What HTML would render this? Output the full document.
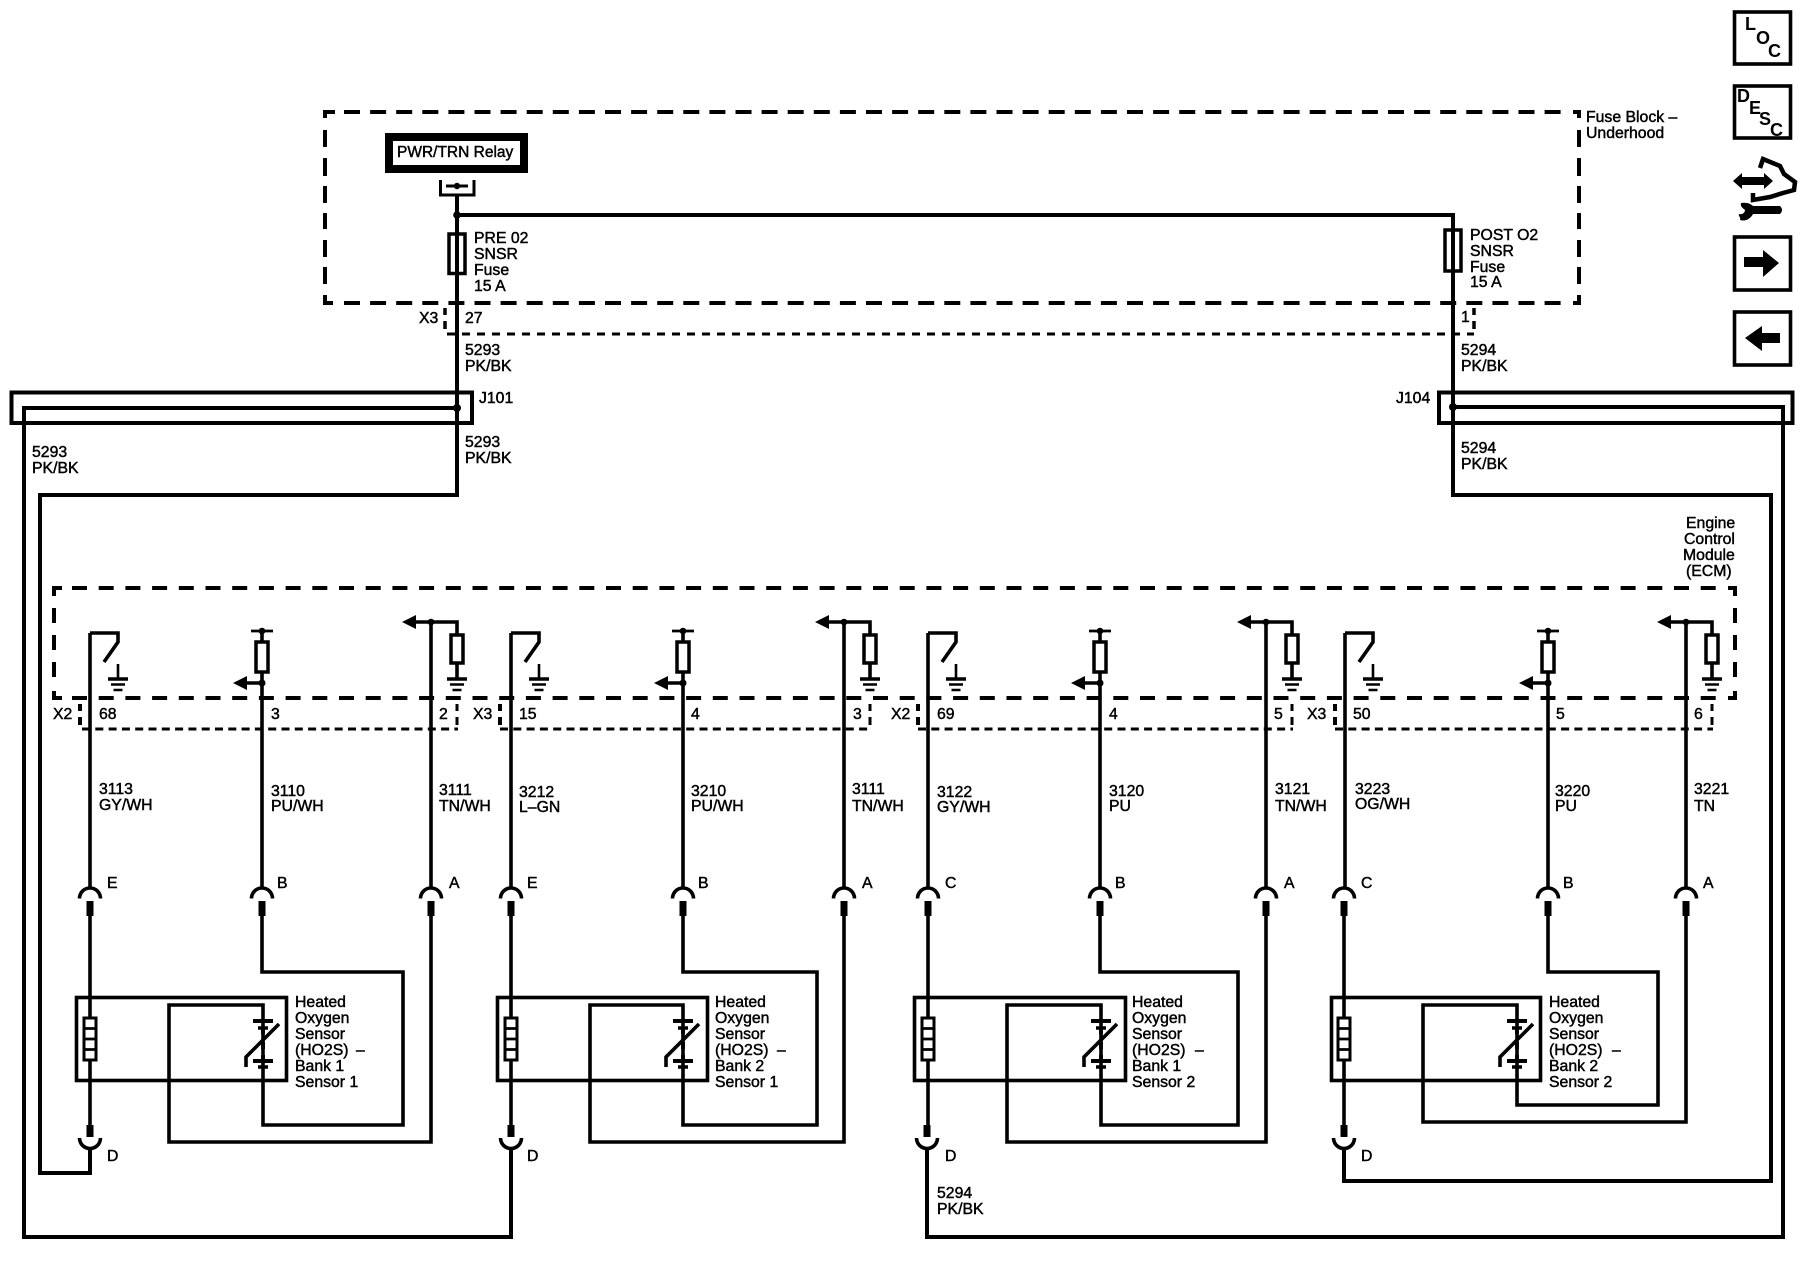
<!DOCTYPE html>
<html><head><meta charset="utf-8"><style>
html,body{margin:0;padding:0;background:#fff}
svg{display:block}
text{font-family:"Liberation Sans",sans-serif;font-size:15.8px;fill:#000;stroke:#000;stroke-width:.45}
.b{font-weight:bold;font-size:18px;stroke:none}
.w{fill:none;stroke:#000;stroke-width:3.6;stroke-linejoin:miter}
.h{fill:none;stroke:#000;stroke-width:4}
.d{fill:none;stroke:#000;stroke-width:4;stroke-dasharray:16 10.1}
.e{fill:none;stroke:#000;stroke-width:4;stroke-dasharray:15 11.7}
.n{fill:none;stroke:#000;stroke-width:3;stroke-dasharray:8 5.3}
</style></head><body>
<svg width="1800" height="1280" viewBox="0 0 1800 1280" xmlns="http://www.w3.org/2000/svg">
<defs>
<g id="gnd"><path d="M-10 679H10" stroke="#000" stroke-width="3.5"/><path d="M-7 684.5H7M-4.500 690H4.500" stroke="#000" stroke-width="2.600"/></g>
<g id="sw"><path class="w" d="M0 633H28V642L14 662" stroke-width="3"/><path d="M28 664V679" stroke="#000" stroke-width="2.600"/><use href="#gnd" x="28"/></g>
<g id="r2"><path d="M-11 631H11" stroke="#000" stroke-width="2.800"/><circle cy="631" r="3.300"/><path class="w" d="M0 631V642"/><rect x="-6" y="642" width="12" height="30" fill="#fff" stroke="#000" stroke-width="3.500"/><path class="w" d="M0 672V888M0 683H-15"/><polygon points="-29,683 -15,676 -15,690"/><circle cy="683" r="3.500"/></g>
<g id="r3"><path class="w" d="M0 622V888M-15 622H26V635"/><polygon points="-29,622 -15,615 -15,629"/><circle cy="622" r="3.300"/><rect x="20" y="635" width="12" height="28" fill="#fff" stroke="#000" stroke-width="3.500"/><path class="w" d="M26 663V679"/><use href="#gnd" x="26"/></g>
<g id="ct"><path class="w" d="M-10.500 898.500A10.500 10.500 0 0 1 10.500 898.500"/><rect x="-3.500" y="901" width="7" height="15"/></g>
<g id="cb"><rect x="-3.500" y="1125" width="7" height="12"/><path class="w" d="M-10.500 1138A10.500 10.500 0 0 0 10.500 1138"/></g>
<g id="cr"><rect x="-6" y="1018" width="12" height="42" fill="#fff" stroke="#000" stroke-width="3"/><path d="M-6 1028.500H6M-6 1039H6M-6 1049.500H6" stroke="#000" stroke-width="2.800"/></g>
<g id="ht"><path d="M-10 1021H10M-10 1061H10" stroke="#000" stroke-width="4"/><path d="M-5 1028H5M-5 1067H5" stroke="#000" stroke-width="3.500"/><path d="M0 1028V1034M0 1042V1049M0 1055V1061" stroke="#000" stroke-width="4"/><path class="w" d="M16 1024L-17 1057V1067"/></g>
</defs>

<!-- Fuse block -->
<path class="d" d="M344 112H1566M344 303H1566"/>
<path class="h" d="M333 114V112H325V118M325 295V303H333M1573 112H1579V118M1579 295V303H1573"/>
<path class="h" d="M325 130V147M325 158V176M325 186V203M325 213V229M325 240V257M325 267V284M1579 130V147M1579 158V176M1579 186V203M1579 213V229M1579 240V257M1579 267V284"/>
<rect x="389" y="137" width="135" height="32" fill="none" stroke="#000" stroke-width="8"/>
<text x="397" y="157" style="font-size:15.5px">PWR/TRN Relay</text>
<path class="w" style="stroke-width:3" d="M440.500 180V195H474V180"/>
<path d="M446 186H468" stroke="#000" stroke-width="3"/><circle cx="457" cy="186" r="3.200"/>
<path class="h" d="M457 195V495H40V1173H90V1149"/>
<circle cx="457" cy="215" r="3.800"/>
<path class="h" d="M457 215H1453V495H1771V1181H1344V1149"/>
<rect x="449" y="234" width="16" height="39.500" fill="none" stroke="#000" stroke-width="3.500"/>
<rect x="1445" y="230" width="16" height="41" fill="none" stroke="#000" stroke-width="3.500"/>
<text x="474" y="243">PRE 02</text><text x="474" y="259">SNSR</text><text x="474" y="275">Fuse</text><text x="474" y="291">15 A</text>
<text x="1470" y="240">POST O2</text><text x="1470" y="256">SNSR</text><text x="1470" y="272">Fuse</text><text x="1470" y="287">15 A</text>
<text x="1586" y="122">Fuse Block –</text><text x="1586" y="138">Underhood</text>

<!-- X3 connector -->
<path class="n" style="stroke-dasharray:8 7" d="M447 334H1474"/>
<path class="h" style="stroke-width:3.500" d="M445 308V315M445 321V329M1474 308V315M1474 321V329"/>
<text x="419" y="323">X3</text><text x="465" y="323">27</text><text x="1461" y="322">1</text>
<text x="465" y="355">5293</text><text x="465" y="371">PK/BK</text>
<text x="1461" y="355">5294</text><text x="1461" y="371">PK/BK</text>

<!-- J101 / J104 -->
<rect x="11.500" y="392.500" width="460.500" height="30.500" fill="none" stroke="#000" stroke-width="4"/>
<path class="h" d="M457 408H24V1237H511V1149"/>
<circle cx="457" cy="408" r="4"/>
<text x="479" y="403">J101</text>
<text x="32" y="457">5293</text><text x="32" y="473">PK/BK</text>
<text x="465" y="447">5293</text><text x="465" y="463">PK/BK</text>
<rect x="1439" y="392.500" width="353.500" height="30.500" fill="none" stroke="#000" stroke-width="4"/>
<path class="h" d="M1453 407H1783V1237H927V1149"/>
<circle cx="1453" cy="407" r="4"/>
<text x="1396" y="403">J104</text>
<text x="1461" y="453">5294</text><text x="1461" y="469">PK/BK</text>

<!-- ECM -->
<text x="1686" y="528">Engine</text><text x="1684" y="544">Control</text><text x="1683" y="560">Module</text><text x="1686" y="576">(ECM)</text>
<path class="e" d="M72 588H1720M72 698H1720"/>
<path class="h" d="M62 588H54V596M54 691V698H62M1728 588H1735V596M1735 691V698H1728"/>
<path class="h" d="M54 608V623M54 635V650M54 662V677M1735 608V623M1735 635V650M1735 662V677"/>

<!-- pin connector lower dashes -->
<path class="n" d="M82 729H458M500 729H871M918 729H1293M1335 729H1713"/>
<path class="h" d="M80 704V711M80 717V725M500 704V711M500 717V725M918 704V711M918 717V725M1335 704V711M1335 717V725"/>
<path class="w" style="stroke-width:3" d="M457 704V711M457 717V725M870 704V711M870 717V725M1292 704V711M1292 717V725M1712 704V711M1712 717V725"/>
<text x="53" y="719">X2</text><text x="99" y="719">68</text><text x="271" y="719">3</text><text x="439" y="719">2</text>
<text x="473" y="719">X3</text><text x="519" y="719">15</text><text x="691" y="719">4</text><text x="853" y="719">3</text>
<text x="891" y="719">X2</text><text x="937" y="719">69</text><text x="1109" y="719">4</text><text x="1274" y="719">5</text>
<text x="1307" y="719">X3</text><text x="1353" y="719">50</text><text x="1556" y="719">5</text><text x="1694" y="719">6</text>

<!-- columns -->
<use href="#sw" x="90"/><use href="#r2" x="262"/><use href="#r3" x="431"/>
<use href="#sw" x="511"/><use href="#r2" x="683"/><use href="#r3" x="844"/>
<use href="#sw" x="928"/><use href="#r2" x="1100"/><use href="#r3" x="1266"/>
<use href="#sw" x="1345"/><use href="#r2" x="1548"/><use href="#r3" x="1686"/>
<path class="w" d="M90 633V888M511 633V888M928 633V888M1345 633V888"/>

<!-- wire labels -->
<text x="99" y="794">3113</text><text x="99" y="810">GY/WH</text>
<text x="271" y="796">3110</text><text x="271" y="811">PU/WH</text>
<text x="439" y="795">3111</text><text x="439" y="811">TN/WH</text>
<text x="519" y="797">3212</text><text x="519" y="812">L–GN</text>
<text x="691" y="796">3210</text><text x="691" y="811">PU/WH</text>
<text x="852" y="794">3111</text><text x="852" y="811">TN/WH</text>
<text x="937" y="797">3122</text><text x="937" y="812">GY/WH</text>
<text x="1109" y="796">3120</text><text x="1109" y="811">PU</text>
<text x="1275" y="794">3121</text><text x="1275" y="811">TN/WH</text>
<text x="1355" y="794">3223</text><text x="1355" y="809">OG/WH</text>
<text x="1555" y="796">3220</text><text x="1555" y="811">PU</text>
<text x="1694" y="794">3221</text><text x="1694" y="811">TN</text>

<!-- cavity letters -->
<text x="107" y="888">E</text><text x="277" y="888">B</text><text x="449" y="888">A</text>
<text x="527" y="888">E</text><text x="698" y="888">B</text><text x="862" y="888">A</text>
<text x="945" y="888">C</text><text x="1115" y="888">B</text><text x="1284" y="888">A</text>
<text x="1361" y="888">C</text><text x="1563" y="888">B</text><text x="1703" y="888">A</text>
<text x="107" y="1161">D</text><text x="527" y="1161">D</text><text x="945" y="1161">D</text><text x="1361" y="1161">D</text>

<!-- connector cavities -->
<use href="#ct" x="90"/><use href="#ct" x="262"/><use href="#ct" x="431"/>
<use href="#ct" x="511"/><use href="#ct" x="683"/><use href="#ct" x="844"/>
<use href="#ct" x="928"/><use href="#ct" x="1100"/><use href="#ct" x="1266"/>
<use href="#ct" x="1344"/><use href="#ct" x="1548"/><use href="#ct" x="1686"/>
<use href="#cb" x="90"/><use href="#cb" x="511"/><use href="#cb" x="927"/><use href="#cb" x="1344"/>

<!-- sensor wiring -->
<path class="w" d="M90 914V1125M511 914V1125M928 914V1125M1344 914V1125"/>
<path class="w" d="M262 914V972H403V1125H263V1005H169V1142H431V914"/>
<path class="w" d="M683 914V972H817V1125H683V1005H590V1142H844V914"/>
<path class="w" d="M1100 914V972H1238V1125H1101V1005H1007V1142H1266V914"/>
<path class="w" d="M1548 914V972H1658V1105H1517V1005H1423V1122H1686V914"/>
<rect x="76.500" y="997.500" width="210" height="83" fill="none" stroke="#000" stroke-width="3.600"/>
<rect x="497.500" y="997.500" width="210" height="83" fill="none" stroke="#000" stroke-width="3.600"/>
<rect x="914.500" y="997.500" width="211" height="83" fill="none" stroke="#000" stroke-width="3.600"/>
<rect x="1331.500" y="997.500" width="209" height="83" fill="none" stroke="#000" stroke-width="3.600"/>
<use href="#cr" x="90"/><use href="#cr" x="511"/><use href="#cr" x="928"/><use href="#cr" x="1344"/>
<use href="#ht" x="263"/><use href="#ht" x="683"/><use href="#ht" x="1101"/><use href="#ht" x="1517"/>

<!-- sensor labels -->
<text x="295" y="1007">Heated</text><text x="295" y="1023">Oxygen</text><text x="295" y="1039">Sensor</text><text x="295" y="1055">(HO2S)</text><text x="356" y="1055">–</text><text x="295" y="1071">Bank 1</text><text x="295" y="1087">Sensor 1</text>
<text x="715" y="1007">Heated</text><text x="715" y="1023">Oxygen</text><text x="715" y="1039">Sensor</text><text x="715" y="1055">(HO2S)</text><text x="777" y="1055">–</text><text x="715" y="1071">Bank 2</text><text x="715" y="1087">Sensor 1</text>
<text x="1132" y="1007">Heated</text><text x="1132" y="1023">Oxygen</text><text x="1132" y="1039">Sensor</text><text x="1132" y="1055">(HO2S)</text><text x="1195" y="1055">–</text><text x="1132" y="1071">Bank 1</text><text x="1132" y="1087">Sensor 2</text>
<text x="1549" y="1007">Heated</text><text x="1549" y="1023">Oxygen</text><text x="1549" y="1039">Sensor</text><text x="1549" y="1055">(HO2S)</text><text x="1612" y="1055">–</text><text x="1549" y="1071">Bank 2</text><text x="1549" y="1087">Sensor 2</text>
<text x="937" y="1198">5294</text><text x="937" y="1214">PK/BK</text>

<!-- right icons -->
<rect x="1734.500" y="12" width="56" height="52" fill="none" stroke="#000" stroke-width="3.600"/>
<text class="b" x="1745" y="30">L</text><text class="b" x="1756" y="44">O</text><text class="b" x="1768" y="57">C</text>
<rect x="1734.500" y="86" width="56" height="52" fill="none" stroke="#000" stroke-width="3.600"/>
<text class="b" x="1737" y="102">D</text><text class="b" x="1749" y="114">E</text><text class="b" x="1759" y="125">S</text><text class="b" x="1770" y="136">C</text>
<path fill="none" stroke="#000" stroke-width="4.500" d="M1760 168L1763 159L1780 166L1784 174L1795 182L1794 190L1783 193L1770 197L1753 200V193"/>
<polygon points="1733,181 1742,173 1742,177 1764,177 1764,173 1773,181 1764,189 1764,185 1742,185 1742,189"/>
<path fill="#000" d="M1741 203C1747 202 1751 204 1753 206H1780Q1784 210 1780 214H1753C1751 218 1746 222 1740 220C1741 217 1738 216 1739 214C1743 215 1745 212 1745 210C1743 208 1740 207 1741 203Z"/>
<rect x="1734.500" y="237" width="56" height="53" fill="none" stroke="#000" stroke-width="3.600"/>
<polygon points="1744,257 1763,257 1763,250 1779,263 1763,277 1763,267 1744,267"/>
<rect x="1734.500" y="312" width="56" height="53" fill="none" stroke="#000" stroke-width="3.600"/>
<polygon points="1780,333 1762,333 1762,326 1745,338 1762,351 1762,343 1780,343"/>
</svg>
</body></html>
